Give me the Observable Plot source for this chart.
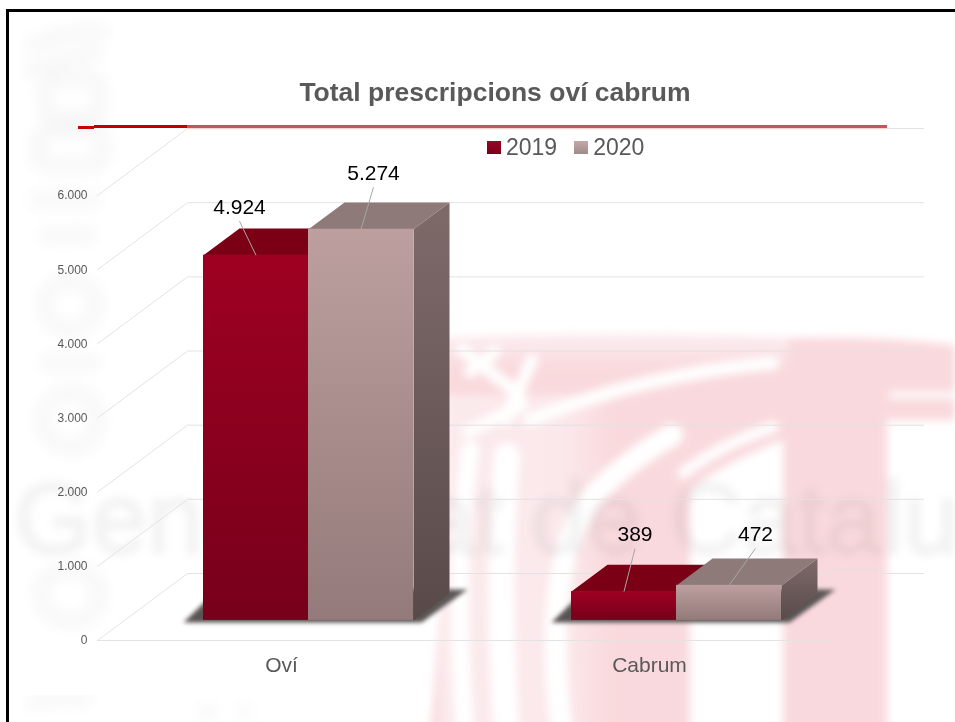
<!DOCTYPE html>
<html lang="ca">
<head>
<meta charset="utf-8">
<title>Total prescripcions oví cabrum</title>
<script src="https://cdn.jsdelivr.net/npm/d3@7"></script>
<script src="https://cdn.jsdelivr.net/npm/@observablehq/plot@0.6"></script>
<style>
  html, body { margin: 0; padding: 0; background: #fff; }
  #page { position: relative; width: 955px; height: 722px; overflow: hidden; font-family: "Liberation Sans", Arial, sans-serif; background-repeat: no-repeat; }
  #page > * { position: absolute; }
  #chart { left: 0; top: 0; will-change: transform; }
  #title { left: 0; width: 990px; top: 76px; margin: 0; text-align: center; font-size: 26.5px; font-weight: bold; color: #595959; line-height: 32px; will-change: transform; }
  #legend { left: 487px; top: 133px; height: 28px; display: flex; align-items: center; font-size: 23px; color: #595959; line-height: 28px; will-change: transform; }
  #legend i { display: inline-block; width: 14px; height: 13px; margin-right: 5px; }
  #legend span { margin-right: 17px; }
  .frame { background: #000; }
  .redline { height: 3px; }
  .shadow { filter: blur(2px); }
</style>
</head>
<body>
<div id="page">
  <div id="chart"></div>
  <div class="frame" style="left:6px;top:9px;width:3px;height:713px"></div>
  <div class="frame" style="left:6px;top:9px;width:949px;height:3px"></div>
  <div class="redline" style="left:187px;top:125px;width:700px;background:#c4555f;box-shadow:0 1px 2px #f6d0c8"></div>
  <div class="redline" style="left:94px;top:125px;width:93px;background:#bf0000"></div>
  <div class="redline" style="left:78px;top:126px;width:16px;background:#c80000"></div>
  <h1 id="title">Total prescripcions oví cabrum</h1>
  <div id="legend"></div>
</div>
<script>
// ---- values ----
const categories = ["Oví", "Cabrum"];
const seriesNames = ["2019", "2020"];
const values2019 = [4924, 389];
const values2020 = [5274, 472];
const yTicks = [0, 1000, 2000, 3000, 4000, 5000, 6000];

// ---- washed-out background picture behind the chart ----
const watermark = `<svg xmlns="http://www.w3.org/2000/svg" width="955" height="722" viewBox="0 0 955 722">
<defs>
<filter id="b4" x="-10%" y="-10%" width="120%" height="120%"><feGaussianBlur stdDeviation="4"/></filter>
<filter id="b8" x="-30%" y="-10%" width="160%" height="120%"><feGaussianBlur stdDeviation="8"/></filter>
<linearGradient id="topfade" x1="0" y1="0" x2="0" y2="1"><stop offset="0" stop-color="#fff" stop-opacity=".55"/><stop offset="1" stop-color="#fff" stop-opacity="0"/></linearGradient>
<linearGradient id="leftfade" x1="0" y1="0" x2="1" y2="0"><stop offset="0" stop-color="#fff" stop-opacity=".45"/><stop offset=".7" stop-color="#fff" stop-opacity=".4"/><stop offset="1" stop-color="#fff" stop-opacity="0"/></linearGradient>
</defs>
<g filter="url(#b4)">
<path fill="#f9d9dd" d="M444 338 Q620 330 790 338 Q880 336 955 345 V420 H887 V740 H430 Q450 520 444 338Z"/>
<rect x="444" y="332" width="345" height="38" fill="url(#topfade)"/>
<rect x="440" y="395" width="175" height="345" fill="url(#leftfade)"/>
<path fill="#fff" d="M690 740 V490 Q720 465 783 440 V740Z"/>
<g fill="none" stroke="#fff" stroke-linecap="round">
<path stroke-width="13" d="M530 420 Q640 375 773 363"/>
<path stroke-width="11" d="M683 473 Q720 445 773 427"/>
<path stroke-width="6" d="M892 395 H955"/>
<path stroke-width="26" d="M507 740 Q496 580 507 456"/>
<path stroke-width="22" d="M563 740 Q540 570 590 500 Q620 465 672 435"/>
<path stroke-width="18" d="M466 740 Q452 580 470 450"/>
<path stroke-width="12" d="M462 350 L520 395 M532 360 L505 420 M468 432 L522 405 M470 372 L495 352"/>
</g>
</g>
<g filter="url(#b4)">
<text x="14" y="553" font-family="Liberation Sans" font-size="100" fill="#000" fill-opacity=".04" stroke="#000" stroke-opacity=".03" stroke-width="4">Generalitat de Catalunya</text>
</g>
<g filter="url(#b8)" fill="none" stroke="#f4f4f4" stroke-width="11">
<path d="M28 48 Q70 28 108 32 M25 72 Q60 62 100 52"/>
<rect x="45" y="78" width="55" height="40" rx="12"/>
<rect x="38" y="130" width="65" height="36" rx="12"/>
<path d="M30 200 H100 M40 235 H95"/>
<ellipse cx="70" cy="305" rx="26" ry="25"/>
<path d="M40 362 H100"/>
<ellipse cx="70" cy="420" rx="28" ry="28"/>
<ellipse cx="70" cy="595" rx="30" ry="26"/>
<path d="M30 708 Q45 692 90 700 M200 716 L215 708 M240 708 L250 716"/>
</g>
<rect x="0" y="648" width="340" height="47" fill="#fff"/>
</svg>`;
document.getElementById("page").style.backgroundImage = `url("data:image/svg+xml,${encodeURIComponent(watermark)}")`;

// ---- 3D projection expressed in scale units ----
const catPx = 368, valPx = 0.0742;           // pixels per category / per value unit
const depthX = 90 / catPx, depthY = 67 / valPx; // how far the floor recedes
const X = (c, d = 0) => c + d * depthX;
const Y = (v, d = 0) => v + d * depthY;
const barW = 105 / catPx, d0 = 0.3, d1 = 0.7;

const seriesValues = [values2019, values2020];
const bars = seriesNames.flatMap((name, s) => categories.map((cat, i) => {
  const c0 = i + 0.5 - barW + s * barW;
  return {id: name + cat, s, i, cat, v: seriesValues[s][i], c0, c1: c0 + barW};
}));
const poly = (id, pts) => pts.map(([c, d, v]) => ({id, x: X(c, d), y: Y(v, d)}));
const topFace = b => poly(b.id, [[b.c0, d0, b.v], [b.c0, d1, b.v], [b.c1, d1, b.v], [b.c1, d0, b.v]]);
const sideFace = b => poly(b.id, [[b.c1, d0, 0], [b.c1, d1, 0], [b.c1, d1, b.v], [b.c1, d0, b.v]]);

// floor shadow under each pair of bars
const sh = (px) => px / catPx, shv = (px) => px / valPx;
const shadows = categories.flatMap((cat, i) => {
  const l = X(i + 0.5 - barW, d0), r = X(i + 0.5 + barW, d0), b = Y(0, d0);
  return [
    {id: cat, x: l - sh(20), y: b - shv(2)},
    {id: cat, x: l + sh(14), y: b + shv(31)},
    {id: cat, x: r + sh(54), y: b + shv(31)},
    {id: cat, x: r + sh(8), y: b - shv(2)}
  ];
});

// gridlines: up the side wall, then along the back wall
const grid = yTicks.flatMap(t => [
  {t, x: X(0, 0), y: Y(t, 0)},
  {t, x: X(0, 1), y: Y(t, 1)},
  {t, x: X(2, 1), y: Y(t, 1)}
]);
const floorFront = [{x: 0, y: 0}, {x: 2, y: 0}];

// data labels with leader lines
const fmt = d3.formatLocale({decimal: ",", thousands: ".", grouping: [3], currency: ["", ""]}).format(",d");
const labelOffsets = {"2019Oví": [-16.5, 48], "2020Oví": [12.5, 56], "2019Cabrum": [11, 57], "2020Cabrum": [26.5, 51]};
const labels = bars.map(b => {
  const [ox, oy] = labelOffsets[b.id];
  const ex = X((b.c0 + b.c1) / 2, d0), ey = Y(b.v, d0);
  return {text: fmt(b.v), ex, ey, lx: ex + ox / catPx, ly: ey + oy / valPx, sx: ex + ox / catPx, sy: ey + (oy - 14) / valPx};
});

const frontFill = ["url(#front2019)", "url(#front2020)"];
const topFill = ["#7b0015", "#8f7a7a"];
const sideFill = ["url(#side)", "url(#side)"];

const defs = () => {
  const ns = "http://www.w3.org/2000/svg";
  const d = document.createElementNS(ns, "defs");
  const add = (id, stops) => {
    const g = document.createElementNS(ns, "linearGradient");
    g.setAttribute("id", id); g.setAttribute("x1", 0); g.setAttribute("y1", 0); g.setAttribute("x2", 0); g.setAttribute("y2", 1);
    stops.forEach(([o, c]) => {
      const st = document.createElementNS(ns, "stop");
      st.setAttribute("offset", o); st.setAttribute("stop-color", c); g.appendChild(st);
    });
    d.appendChild(g);
  };
  add("front2019", [[0, "#9e0022"], [1, "#77001a"]]);
  add("front2020", [[0, "#bd9f9f"], [1, "#947a7a"]]);
  add("side", [[0, "#7f6a6a"], [1, "#594a4a"]]);
  add("shadowFill", [[0, "#5e5858"], [1, "#575151"]]);
  return d;
};

const marks = [
  defs,
  Plot.line(grid, {x: "x", y: "y", z: "t", stroke: "#e3e3e3", strokeWidth: 1}),
  Plot.line(floorFront, {x: "x", y: "y", stroke: "#e3e3e3", strokeWidth: 1}),
  Plot.line(shadows, {x: "x", y: "y", z: "id", fill: "url(#shadowFill)", stroke: "none", className: "shadow"})
];
seriesNames.forEach((name, s) => {
  const rows = bars.filter(b => b.s === s);
  marks.push(
    Plot.line(rows.flatMap(sideFace), {x: "x", y: "y", z: "id", fill: sideFill[s], stroke: "none"}),
    Plot.line(rows.flatMap(topFace), {x: "x", y: "y", z: "id", fill: topFill[s], stroke: "none"}),
    Plot.rect(rows, {
      x1: b => X(b.c0, d0), x2: b => X(b.c1, d0),
      y1: () => Y(0, d0), y2: b => Y(b.v, d0),
      fill: frontFill[s]
    })
  );
});
marks.push(
  Plot.link(labels, {x1: "sx", y1: "sy", x2: "ex", y2: "ey", stroke: "#a6a6a6", strokeWidth: 1}),
  Plot.text(labels, {x: "lx", y: "ly", text: "text", fontSize: 21, fill: "#000"}),
  Plot.axisY({ticks: yTicks, tickFormat: fmt, tickSize: 0, tickPadding: 10, fontSize: 12, fill: "#595959", label: null}),
  Plot.axisX({ticks: categories.map((_, i) => i + 0.5), tickFormat: v => categories[v - 0.5], tickSize: 0, tickPadding: 17, fontSize: 21, fill: "#595959", label: null})
);

const plot = Plot.plot({
  width: 955,
  height: 722,
  marginLeft: 97,
  marginRight: 122,
  marginTop: 195,
  marginBottom: 82,
  x: {type: "linear", domain: [0, 2]},
  y: {type: "linear", domain: [0, 6000]},
  style: {background: "transparent", fontFamily: "'Liberation Sans', Arial, sans-serif", overflow: "visible"},
  marks
});
document.getElementById("chart").appendChild(plot);

const legend = document.getElementById("legend");
const swatch = ["linear-gradient(#9e0022,#77001a)", "linear-gradient(#c4a8a8,#a08a8a)"];
seriesNames.forEach((name, s) => {
  const i = document.createElement("i");
  i.style.background = swatch[s];
  const t = document.createElement("span");
  t.textContent = name;
  legend.append(i, t);
});
</script>
</body>
</html>
